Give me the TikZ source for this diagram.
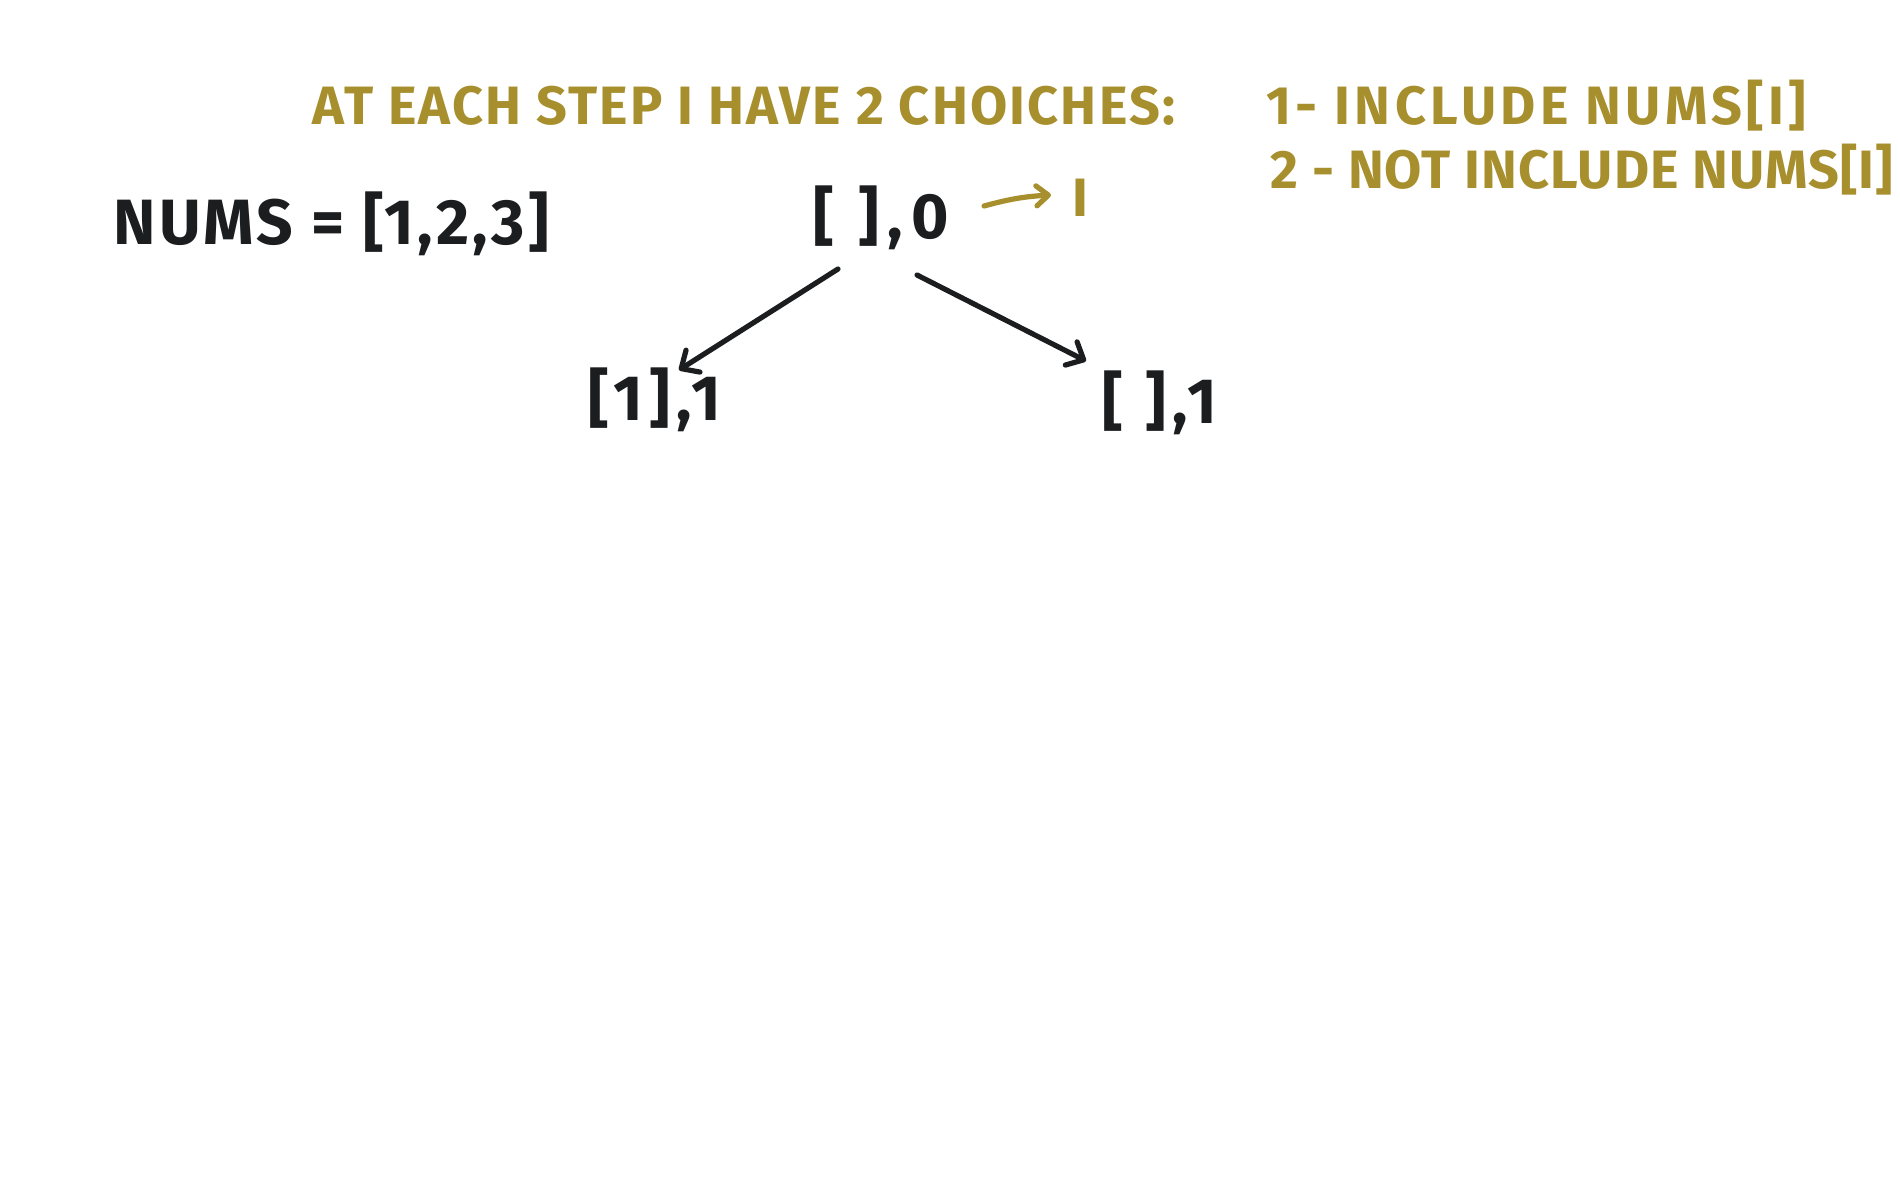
\documentclass[tikz,border=0pt]{standalone}
\usepackage{fontspec}
\setmainfont{Fira Sans}
\usetikzlibrary{arrows.meta}
\definecolor{gold}{HTML}{A88F2E}
\definecolor{ink}{HTML}{1B1D1F}
\tikzset{
  goldtxt/.style={text=gold, font=\fontsize{27}{30}\selectfont\bfseries, inner sep=0pt, anchor=center},
  inktxt/.style={text=ink, font=\fontsize{32}{36}\selectfont\bfseries\addfontfeature{LetterSpace=10}, inner sep=0pt, anchor=center},
  inkarrow/.style={draw=ink, line width=2.6pt, line cap=round, -{Straight Barb[length=7pt,width=13pt,round]}},
  goldarrow/.style={draw=gold, line width=2.6pt, line cap=round, -{Straight Barb[length=6pt,width=10pt,round]}},
}
\begin{document}
\begin{tikzpicture}[x=0.5pt,y=-0.5pt]
\useasboundingbox[fill=white] (0,0) rectangle (1900,1200);
\node[goldtxt] (title) at (744,106) {\addfontfeature{LetterSpace=4}AT EACH STEP I HAVE 2 CHOICHES:};
\node[goldtxt, anchor=west] (opt1) at (1266,106) {\addfontfeature{LetterSpace=8}1- INCLUDE NUMS[I]};
\node[goldtxt, anchor=west] (opt2) at (1270,170) {\addfontfeature{LetterSpace=2}2 - NOT INCLUDE NUMS[I]};
\node[inktxt, anchor=west] (nums) at (113,224) {\addfontfeature{LetterSpace=5}NUMS = [1,2,3]};
\node[inktxt] (root) at (881,218) {\addfontfeature{LetterSpace=14}[ ],0};
\node[goldtxt] (idx) at (1080,198) {I};
\node[inktxt] (left) at (655,400) {[1],1};
\node[inktxt] (right) at (1160,403) {[ ],1};
\draw[goldarrow] ([shift={(103,-12)}]root.center) to[bend left=6] ([shift={(-29,-3)}]idx.center);
\draw[inkarrow] ([shift={(-43,51)}]root.center) -- ([shift={(24,-30)}]left.center);
\draw[inkarrow] ([shift={(36,57)}]root.center) -- ([shift={(-74,-42)}]right.center);
\end{tikzpicture}
\end{document}
